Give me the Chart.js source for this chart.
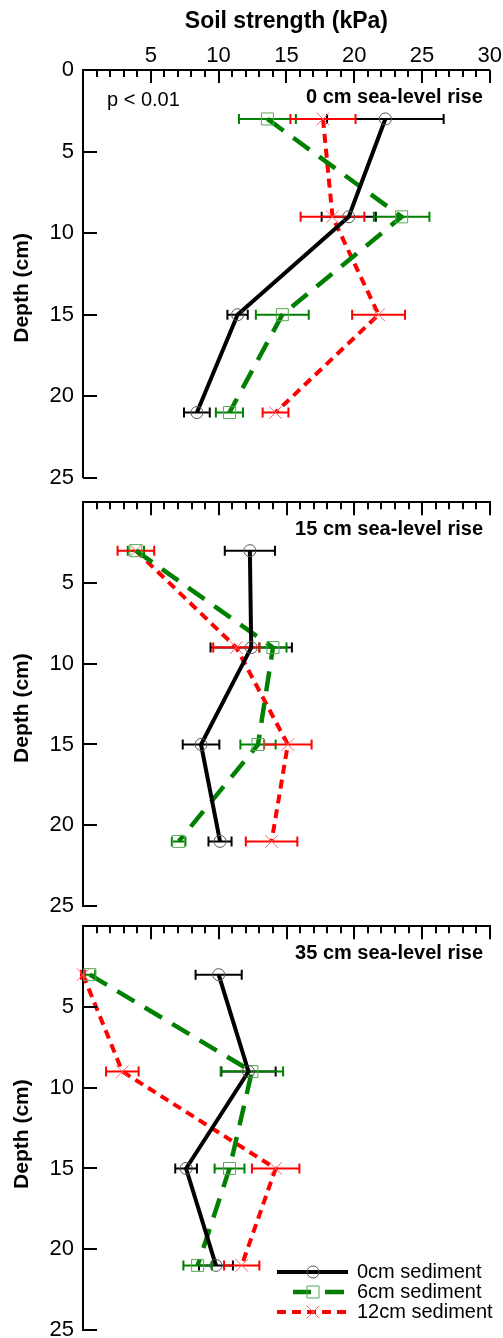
<!DOCTYPE html>
<html>
<head>
<meta charset="utf-8">
<script src="https://cdn.jsdelivr.net/npm/chart.js@4.4.1/dist/chart.umd.min.js"></script>
<style>
html, body { margin: 0; padding: 0; background: #fff; }
#wrap { position: relative; width: 503px; height: 1338px; overflow: hidden; background: #fff; }
#wrap canvas { position: absolute; left: 0; }
</style>
</head>
<body>
<div id="wrap">
  <canvas id="c1" width="503" height="500" style="top:0px"></canvas>
  <canvas id="c2" width="503" height="450" style="top:480px"></canvas>
  <canvas id="c3" width="503" height="450" style="top:904px"></canvas>
</div>
<script>
// ---------------- data ----------------
const depthCm = [3, 9, 15, 21];
const xTickValues = [5, 10, 15, 20, 25, 30];
const yTickValuesTop = [0, 5, 10, 15, 20, 25];
const yTickValuesLower = [5, 10, 15, 20, 25];
const seriesLabels = ['0cm sediment', '6cm sediment', '12cm sediment'];
const panelLabels = ['0 cm sea-level rise', '15 cm sea-level rise', '35 cm sea-level rise'];
const xAxisTitle = 'Soil strength (kPa)';
const yAxisTitle = 'Depth (cm)';
const pValueText = 'p < 0.01';

// 0 cm sea-level rise
const slr0_sed0 = [22.3, 19.6, 11.4, 8.4];
const slr0_sed0_err = [4.3, 2.0, 0.75, 0.95];
const slr0_sed6 = [13.6, 23.5, 14.7, 10.8];
const slr0_sed6_err = [2.1, 2.05, 1.95, 1.0];
const slr0_sed12 = [17.7, 18.4, 21.8, 14.2];
const slr0_sed12_err = [2.4, 2.35, 1.95, 0.95];

// 15 cm sea-level rise
const slr15_sed0 = [12.3, 12.4, 8.7, 10.1];
const slr15_sed0_err = [1.85, 3.0, 1.35, 0.85];
const slr15_sed6 = [3.9, 14.0, 12.9, 7.05];
const slr15_sed6_err = [0.6, 1.0, 1.3, 0.5];
const slr15_sed12 = [3.9, 11.3, 15.1, 13.9];
const slr15_sed12_err = [1.35, 1.7, 1.75, 1.9];

// 35 cm sea-level rise
const slr35_sed0 = [10.0, 12.2, 7.6, 9.8];
const slr35_sed0_err = [1.7, 2.0, 0.8, 1.25];
const slr35_sed6 = [0.5, 12.45, 10.8, 8.45];
const slr35_sed6_err = [0.4, 2.3, 1.1, 1.05];
const slr35_sed12 = [0.0, 2.9, 14.2, 11.7];
const slr35_sed12_err = [0.15, 1.2, 1.75, 1.3];

// ---------------- styles ----------------
const FONT = "'Liberation Sans', Arial, Helvetica, sans-serif";
Chart.defaults.font.family = FONT;
Chart.defaults.color = '#000';

const seriesStyles = [
  { line: '#000000', err: '#000000', dash: [], point: 'circle', radius: 6, pointColor: '#555555', width: 4 },
  { line: '#008000', err: '#008000', dash: [20, 12], point: 'rect', radius: 8.5, pointColor: '#55aa55', width: 4.5 },
  { line: '#ff0000', err: '#ff0000', dash: [9, 6], point: 'crossRot', radius: 9, pointColor: '#ff6666', width: 4 }
];

// ---------------- plugins ----------------
const errorBarPlugin = {
  id: 'errorBars',
  beforeDatasetsDraw(chart) {
    const { ctx, scales: { x, y } } = chart;
    chart.data.datasets.forEach((ds) => {
      if (!ds.errors) return;
      ctx.save();
      ctx.strokeStyle = ds.errColor;
      ctx.lineWidth = 2;
      ctx.setLineDash([]);
      ds.data.forEach((p, j) => {
        const e = ds.errors[j];
        const x0 = x.getPixelForValue(p.x - e);
        const x1 = x.getPixelForValue(p.x + e);
        const yy = y.getPixelForValue(p.y);
        ctx.beginPath();
        ctx.moveTo(x0, yy); ctx.lineTo(x1, yy);
        ctx.moveTo(x0, yy - 5); ctx.lineTo(x0, yy + 5);
        ctx.moveTo(x1, yy - 5); ctx.lineTo(x1, yy + 5);
        ctx.stroke();
      });
      ctx.restore();
    });
  }
};

const tickMarkPlugin = {
  id: 'tickMarks',
  afterDraw(chart) {
    const { ctx, chartArea: a, scales: { x, y } } = chart;
    ctx.save();
    ctx.strokeStyle = '#000';
    ctx.lineWidth = 2;
    ctx.setLineDash([]);
    ctx.beginPath();
    for (let v = x.min; v <= x.max; v += 1) {
      const px = Math.round(x.getPixelForValue(v));
      const len = (v % 5 === 0) ? 13 : 7;
      ctx.moveTo(px, a.top); ctx.lineTo(px, a.top + len);
    }
    for (let v = 5; v <= y.max; v += 5) {
      const py = Math.round(y.getPixelForValue(v));
      ctx.moveTo(a.left, py); ctx.lineTo(a.left + 14, py);
    }
    ctx.stroke();
    ctx.restore();
  }
};

function drawMarker(ctx, style, cx, cy) {
  ctx.save();
  ctx.lineWidth = 1;
  ctx.strokeStyle = style.pointColor;
  ctx.fillStyle = 'rgba(0,0,0,0)';
  ctx.setLineDash([]);
  Chart.helpers.drawPoint(ctx, {
    pointStyle: style.point, radius: style.radius, borderWidth: 1, rotation: 0
  }, cx, cy);
  ctx.restore();
}

const annotationPlugin = {
  id: 'panelText',
  afterDraw(chart, args, opts) {
    const { ctx, chartArea: a } = chart;
    ctx.save();
    // y axis title
    ctx.font = 'bold 21px ' + FONT;
    ctx.fillStyle = '#000';
    ctx.textAlign = 'center';
    ctx.textBaseline = 'middle';
    ctx.translate(22, (a.top + a.bottom) / 2 + opts.yTitleShift);
    ctx.rotate(-Math.PI / 2);
    ctx.fillText(yAxisTitle, 0, 0);
    ctx.restore();

    ctx.save();
    ctx.fillStyle = '#000';
    ctx.textBaseline = 'middle';
    ctx.font = 'bold 20px ' + FONT;
    ctx.textAlign = 'right';
    ctx.fillText(opts.label, a.right - 7, a.top + 27);
    if (opts.pValue) {
      ctx.font = '20px ' + FONT;
      ctx.textAlign = 'left';
      ctx.fillText(pValueText, a.left + 24, a.top + 30);
    }
    if (opts.legend) {
      const rows = [a.bottom - 58, a.bottom - 38, a.bottom - 18];
      const lx0 = 277, lx1 = 348, mx = 313;
      seriesStyles.forEach((st, i) => {
        const yy = rows[i];
        ctx.save();
        ctx.strokeStyle = st.line;
        ctx.lineWidth = st.width;
        ctx.beginPath();
        if (i === 0) {
          ctx.moveTo(lx0, yy); ctx.lineTo(lx1, yy);
        } else if (i === 1) {
          ctx.moveTo(293, yy); ctx.lineTo(311, yy);
          ctx.moveTo(325, yy); ctx.lineTo(lx1 - 4, yy);
        } else {
          ctx.setLineDash(st.dash);
          ctx.moveTo(lx0, yy); ctx.lineTo(lx1, yy);
        }
        ctx.stroke();
        ctx.restore();
        drawMarker(ctx, st, mx, yy);
        ctx.font = '20px ' + FONT;
        ctx.textAlign = 'left';
        ctx.fillStyle = '#000';
        ctx.fillText(seriesLabels[i], 357, yy);
      });
    }
    ctx.restore();
  }
};

// ---------------- builder ----------------
function makePanel(id, values, errors, cfg) {
  const datasets = values.map((vals, i) => {
    const st = seriesStyles[i];
    return {
      label: seriesLabels[i],
      data: depthCm.map((d, j) => ({ x: vals[j], y: d })),
      errors: errors[i],
      errColor: st.err,
      showLine: true,
      borderColor: st.line,
      borderWidth: st.width,
      borderDash: st.dash,
      pointStyle: st.point,
      pointRadius: st.radius,
      pointHoverRadius: st.radius,
      pointBorderColor: st.pointColor,
      pointBackgroundColor: 'rgba(0,0,0,0)',
      pointBorderWidth: 1,
      tension: 0,
      clip: false
    };
  });

  return new Chart(document.getElementById(id), {
    type: 'scatter',
    data: { datasets },
    options: {
      responsive: false,
      animation: false,
      events: [],
      layout: { padding: { left: 0, right: 13, top: 0, bottom: cfg.padBottom } },
      plugins: {
        legend: { display: false },
        tooltip: { enabled: false },
        panelText: { label: cfg.label, pValue: cfg.pValue, legend: cfg.legend, yTitleShift: cfg.yTitleShift }
      },
      scales: {
        x: {
          type: 'linear',
          position: 'top',
          min: 0,
          max: 30,
          afterBuildTicks: (s) => { s.ticks = xTickValues.map(v => ({ value: v })); },
          afterFit: (s) => { s.height = cfg.xHeight; },
          ticks: { display: cfg.xLabels, font: { size: 22 }, color: '#000', padding: 1, maxRotation: 0 },
          grid: { display: false, drawTicks: false, tickLength: 0 },
          border: { display: true, color: '#000', width: 2 },
          title: {
            display: cfg.xLabels,
            text: xAxisTitle,
            font: { size: 23, weight: 'bold' },
            color: '#000',
            padding: { top: 8, bottom: 0 }
          }
        },
        y: {
          type: 'linear',
          reverse: true,
          min: 0,
          max: 25,
          afterBuildTicks: (s) => { s.ticks = cfg.yTicks.map(v => ({ value: v })); },
          afterFit: (s) => { s.width = 83; },
          ticks: { font: { size: 22 }, color: '#000', padding: 9 },
          grid: { display: false, drawTicks: false, tickLength: 0 },
          border: { display: true, color: '#000', width: 2 }
        }
      }
    },
    plugins: [errorBarPlugin, tickMarkPlugin, annotationPlugin]
  });
}

makePanel('c1',
  [slr0_sed0, slr0_sed6, slr0_sed12],
  [slr0_sed0_err, slr0_sed6_err, slr0_sed12_err],
  { label: panelLabels[0], pValue: true, legend: false, xLabels: true, xHeight: 70, padBottom: 22, yTicks: yTickValuesTop, yTitleShift: 14 });

makePanel('c2',
  [slr15_sed0, slr15_sed6, slr15_sed12],
  [slr15_sed0_err, slr15_sed6_err, slr15_sed12_err],
  { label: panelLabels[1], pValue: false, legend: false, xLabels: false, xHeight: 20, padBottom: 24, yTicks: yTickValuesLower, yTitleShift: 4 });

makePanel('c3',
  [slr35_sed0, slr35_sed6, slr35_sed12],
  [slr35_sed0_err, slr35_sed6_err, slr35_sed12_err],
  { label: panelLabels[2], pValue: false, legend: true, xLabels: false, xHeight: 20, padBottom: 24, yTicks: yTickValuesLower, yTitleShift: 6 });
</script>
</body>
</html>
